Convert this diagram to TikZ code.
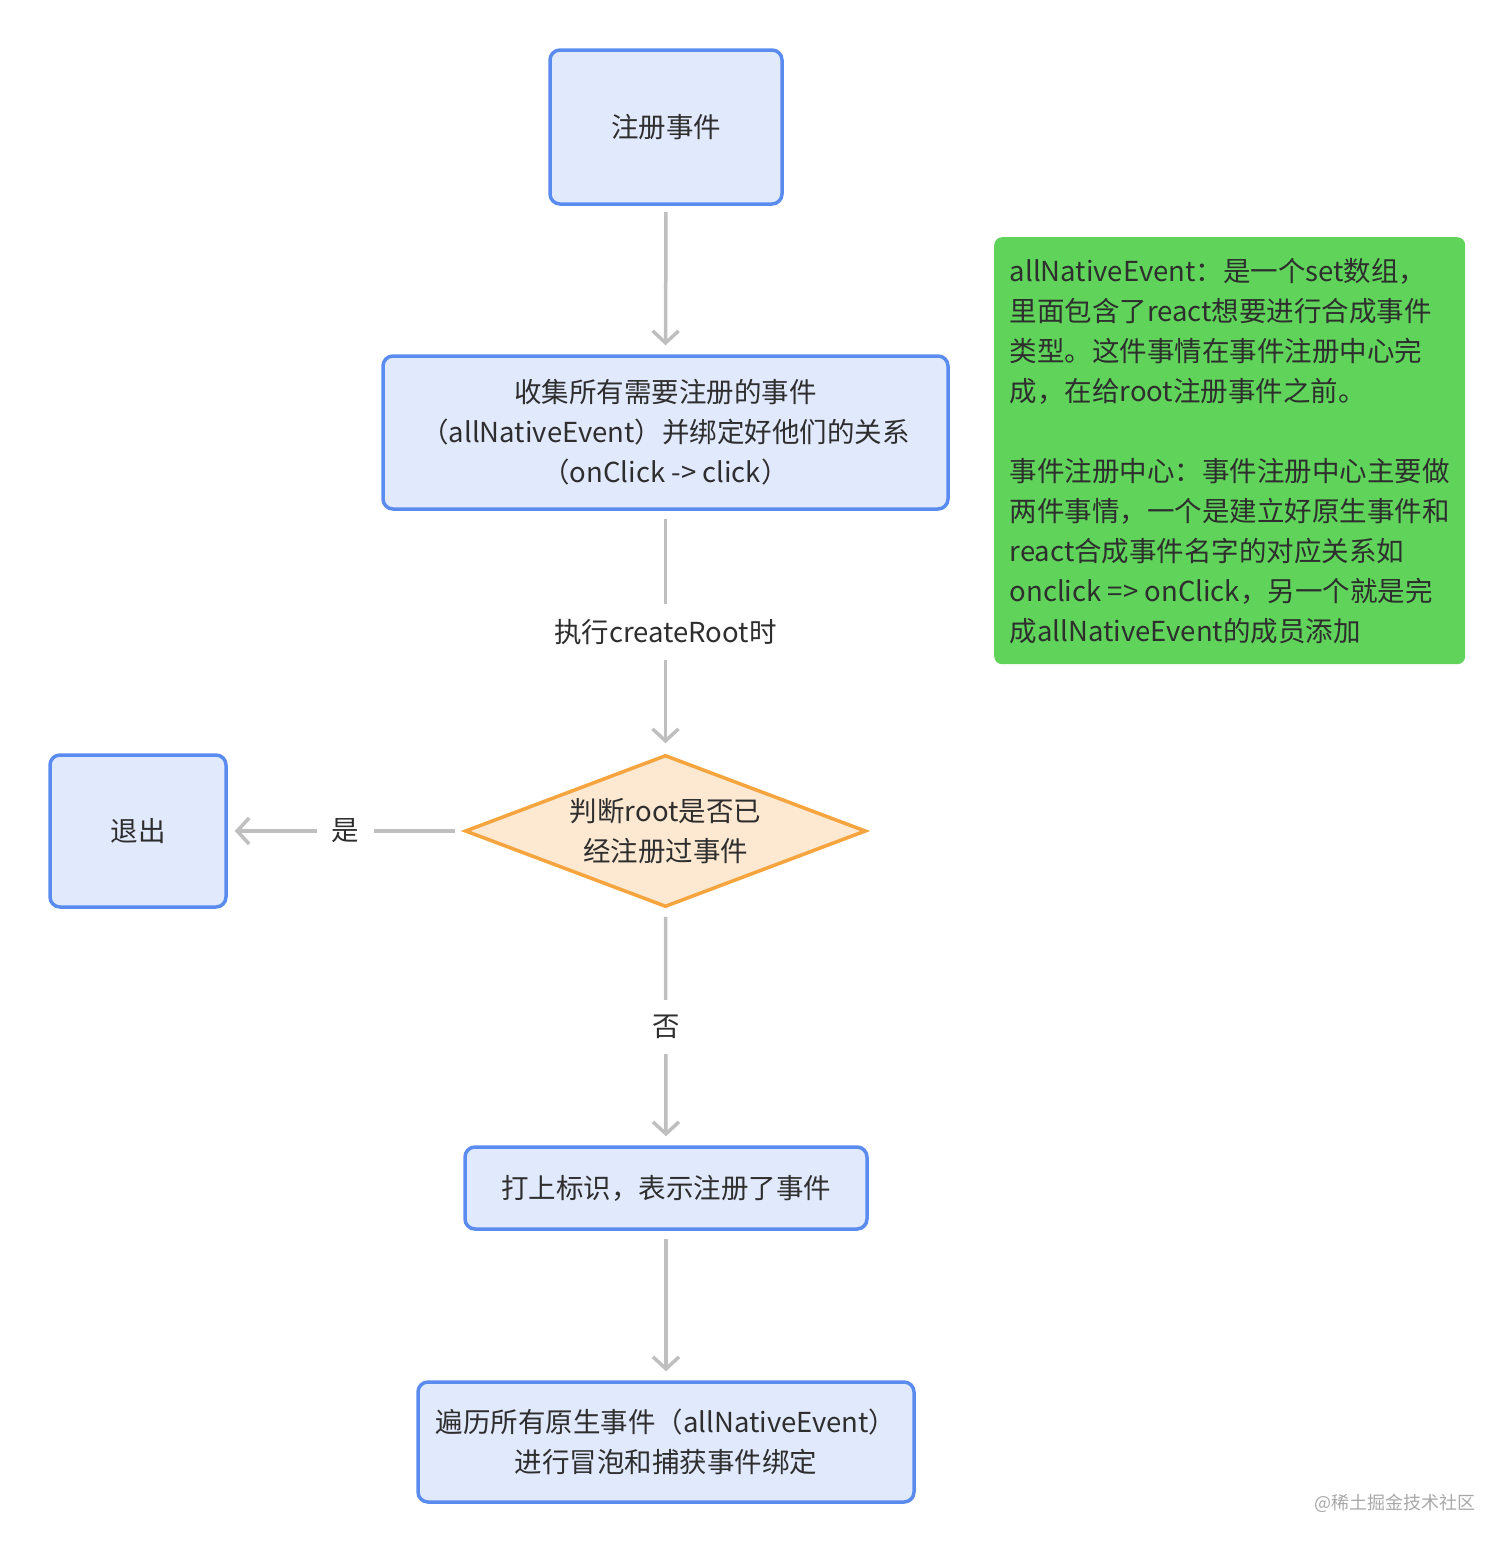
\documentclass[tikz,border=0pt]{standalone}
\usepackage{fontspec}
\setmainfont{Noto Sans CJK SC}
\usetikzlibrary{shapes.geometric,arrows.meta}

\definecolor{boxblue}{HTML}{5A8CEF}
\definecolor{boxfill}{HTML}{E1E9FD}
\definecolor{decfill}{HTML}{FDE8D2}
\definecolor{decline}{HTML}{F5A43E}
\definecolor{notegreen}{HTML}{5FD35A}
\definecolor{arrgray}{HTML}{BFBFBF}
\definecolor{txt}{HTML}{2E2E2E}
\definecolor{marktxt}{HTML}{A8A8A8}

\begin{document}
\begin{tikzpicture}[x=1pt,y=-1pt,
		every node/.style={font=\fontsize{27.5}{40}\selectfont, text=txt},
		stepbox/.style={draw=boxblue, fill=boxfill, line width=3.5pt, rounded corners=10pt, align=center},
		decide/.style={diamond, draw=decline, fill=decfill, line width=3.5pt, align=center, inner sep=0pt, aspect=2.6},
		arr/.style={draw=arrgray, line width=3.5pt, -{Straight Barb[length=12pt,width=26pt]}},
		lbl/.style={fill=white, inner sep=15pt}]
		\useasboundingbox (0,0) rectangle (1512,1551);
		
		% flow
		\node[stepbox, minimum width=232pt, minimum height=154pt] (reg) at (666,127) {注册事件};
		\node[stepbox, minimum width=565pt, minimum height=153pt] (collect) at (665.5,432.5)
			{收集所有需要注册的事件\\（allNativeEvent）并绑定好他们的关系\\（onClick -> click）};
		\node[decide, minimum width=401pt, minimum height=152pt] (judge) at (665.5,831) {判断root是否已\\经注册过事件};
		\node[stepbox, minimum width=176pt, minimum height=152pt] (quit) at (138,831) {退出};
		\node[stepbox, minimum width=402pt, minimum height=82pt] (mark) at (666,1188) {打上标识，表示注册了事件};
		\node[stepbox, minimum width=496pt, minimum height=120pt] (bind) at (666,1442)
			{遍历所有原生事件（allNativeEvent）\\进行冒泡和捕获事件绑定};
		
		\draw[arr, shorten <=6pt, shorten >=9pt] (reg.south) -- (collect.north);
		\draw[arr, shorten <=8pt, shorten >=10pt] (collect.south) -- node[lbl] {执行createRoot时} (judge.north);
		\draw[arr, shorten <=8pt, shorten >=7pt] (judge.west) -- node[lbl] {是} (quit.east);
		\draw[arr, shorten <=8pt, shorten >=9pt] (judge.south) -- node[lbl] {否} (mark.north);
		\draw[arr, shorten <=8pt, shorten >=9pt] (mark.south) -- (bind.north);
		
		% note
		\node[fill=notegreen, rounded corners=8pt, align=left, inner xsep=14pt, anchor=north west,
			minimum width=471pt, minimum height=427pt] (note) at (994,237)
			{allNativeEvent：是一个set数组，\\里面包含了react想要进行合成事件\\类型。这件事情在事件注册中心完\\成，在给root注册事件之前。\\[40pt]
			事件注册中心：事件注册中心主要做\\两件事情，一个是建立好原生事件和\\react合成事件名字的对应关系如\\onclick => onClick，另一个就是完\\成allNativeEvent的成员添加};
		
		\node[font=\fontsize{18}{20}\selectfont, text=marktxt] (wm) at (1395,1503) {@稀土掘金技术社区};
	\end{tikzpicture}
\end{document}
